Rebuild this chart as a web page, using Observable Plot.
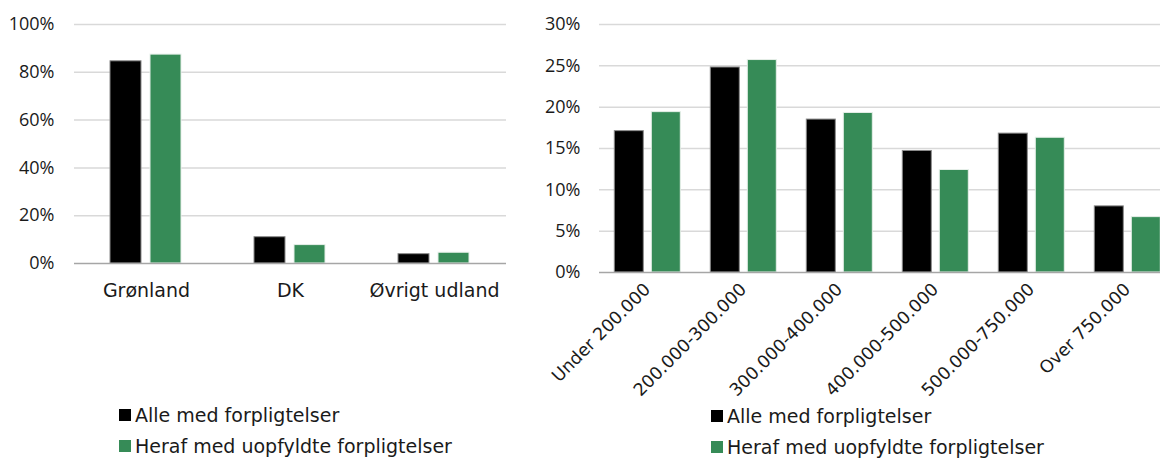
<!DOCTYPE html>
<html><head><meta charset="utf-8">
<script src="https://cdn.jsdelivr.net/npm/d3@7"></script>
<script src="https://cdn.jsdelivr.net/npm/@observablehq/plot@0.6"></script>
<style>
html,body{margin:0;padding:0;background:#fff;}
body{width:1160px;height:458px;overflow:hidden;position:relative;font-family:"DejaVu Sans",sans-serif;color:#1a1a1a;}
#left{position:absolute;left:0;top:0;}
#right{position:absolute;left:520px;top:0;width:640px;height:420px;overflow:hidden;}
#left svg,#right svg{max-width:none !important;}
.lg{position:absolute;font-size:19px;line-height:19px;white-space:nowrap;}
.sw{position:absolute;width:12px;height:12px;}
</style></head>
<body>
<div id="left"></div>
<div id="right"></div>
<div id="legends"></div>
<script>
const series = ["Alle med forpligtelser", "Heraf med uopfyldte forpligtelser"];
const seriesColors = ["#000000", "#368b57"];

const regions = ["Grønland", "DK", "Øvrigt udland"];
const regionAlle = [84.6, 11.0, 3.9];
const regionHeraf = [87.4, 7.7, 4.5];
const regionTicks = [0, 20, 40, 60, 80, 100];

const incomeGroups = ["Under 200.000", "200.000-300.000", "300.000-400.000", "400.000-500.000", "500.000-750.000", "Over 750.000"];
const incomeAlle = [17.1, 24.8, 18.5, 14.7, 16.8, 8.0];
const incomeHeraf = [19.4, 25.7, 19.3, 12.4, 16.3, 6.7];
const incomeTicks = [0, 5, 10, 15, 20, 25, 30];

function rows(cats, a, b) {
  const out = [];
  cats.forEach((c, i) => {
    out.push({cat: c, series: series[0], value: a[i]});
    out.push({cat: c, series: series[1], value: b[i]});
  });
  return out;
}

function chart(cfg) {
  const data = rows(cfg.cats, cfg.a, cfg.b);
  return Plot.plot({
    width: cfg.width,
    height: cfg.height,
    marginLeft: cfg.marginLeft,
    marginRight: cfg.marginRight,
    marginTop: 24,
    marginBottom: cfg.marginBottom,
    style: {fontFamily: "DejaVu Sans", fontSize: "19px", color: "#1a1a1a", background: "transparent", maxWidth: "none"},
    fx: {domain: cfg.cats, padding: 0, label: null},
    x: {domain: series, paddingInner: 0.221, paddingOuter: cfg.paddingOuter, axis: null},
    y: {domain: [0, cfg.ticks[cfg.ticks.length - 1]], label: null},
    color: {domain: series, range: seriesColors},
    marks: [
      Plot.gridY(cfg.ticks.filter(t => t > 0), {stroke: "#d9d9d9", strokeOpacity: 1, strokeWidth: 1.5}),
      Plot.barY(data.filter(d => d.series === series[0]), {fx: "cat", x: "series", y: "value", fill: "series", stroke: "#8a8a8a", strokeWidth: 1}),
      Plot.barY(data.filter(d => d.series === series[1]), {fx: "cat", x: "series", y: "value", fill: "series", stroke: "#e6efe9", strokeWidth: 1}),
      Plot.ruleY([0], {stroke: "#a6a6a6", strokeWidth: 1.5}),
      Plot.axisY({ticks: cfg.ticks, tickFormat: d => d + "%", tickSize: 0, tickPadding: cfg.yPad, label: null, fontFamily: "Open Sans", fontSize: 18, fill: "#1a1a1a"}),
      Plot.axisFx({anchor: "bottom", tickSize: 0, tickPadding: cfg.fxPad, label: null, tickRotate: cfg.rotate, fontSize: cfg.fxFont, fill: "#1a1a1a"})
    ]
  });
}

document.getElementById("left").append(chart({
  cats: regions, a: regionAlle, b: regionHeraf, ticks: regionTicks,
  width: 520, height: 320, marginLeft: 74, marginRight: 14, marginBottom: 57,
  paddingOuter: 0.88, yPad: 20, fxPad: 20, rotate: 0, fxFont: 19
}));

document.getElementById("right").append(chart({
  cats: incomeGroups, a: incomeAlle, b: incomeHeraf, ticks: incomeTicks,
  width: 680, height: 400, marginLeft: 76.7, marginRight: 23, marginBottom: 128,
  paddingOuter: 0.396, yPad: 19, fxPad: 14, rotate: -45, fxFont: 17.5
}));

const legendSpots = [{x: 119, y: 409}, {x: 711, y: 410}];
const lg = document.getElementById("legends");
legendSpots.forEach(p => {
  series.forEach((s, i) => {
    const sw = document.createElement("div");
    sw.className = "sw";
    sw.style.left = p.x + "px";
    sw.style.top = (p.y + i * 31) + "px";
    sw.style.background = seriesColors[i];
    lg.append(sw);
    const t = document.createElement("div");
    t.className = "lg";
    t.style.left = (p.x + 16) + "px";
    t.style.top = (p.y - 3.5 + i * 31) + "px";
    t.textContent = s;
    lg.append(t);
  });
});
</script>
</body></html>
